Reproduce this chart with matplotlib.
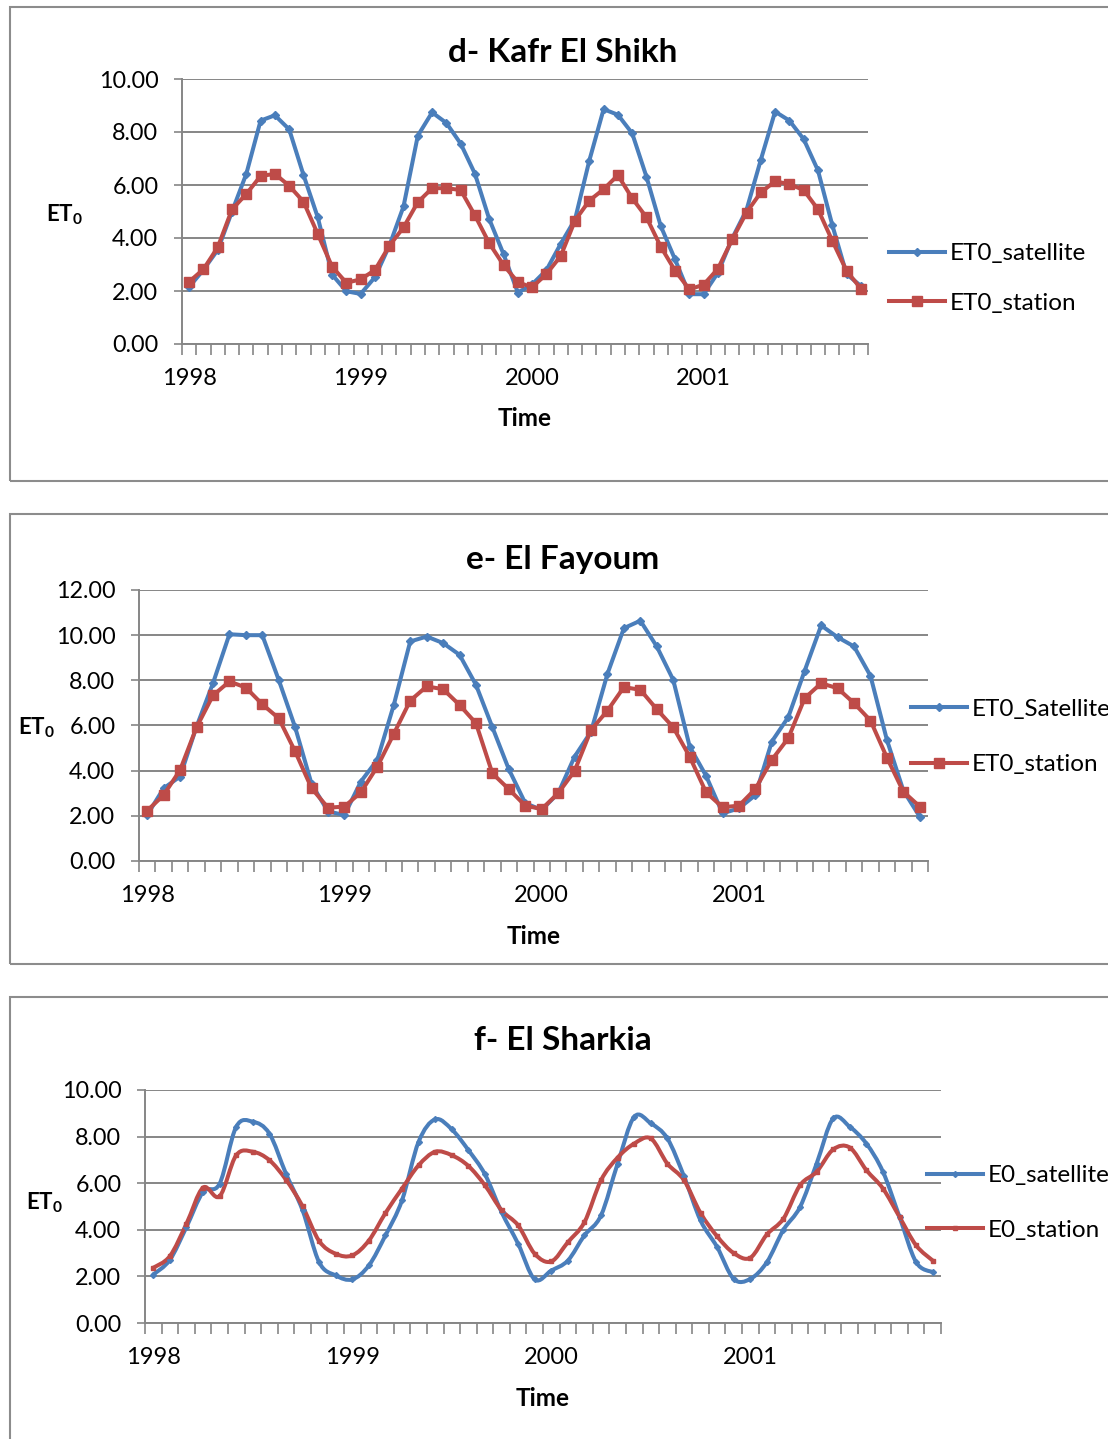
import numpy as np
import matplotlib
matplotlib.use("Agg")
import matplotlib.pyplot as plt
from matplotlib.patches import Rectangle, PathPatch
from matplotlib.path import Path
from matplotlib.lines import Line2D

plt.rcParams['font.family'] = ['Lato', 'DejaVu Sans']
plt.rcParams['mathtext.fontset'] = 'custom'
plt.rcParams['mathtext.rm'] = 'Lato'
plt.rcParams['mathtext.bf'] = 'Lato:bold'

W, H = 1108, 1439

year_labels = ['1998', '1999', '2000', '2001']

# d- Kafr El Shikh (monthly, 1998-2001)
kafr_sat = [2.15, 2.80, 3.55, 5.00, 6.42, 8.43, 8.63, 8.10, 6.38, 4.78, 2.62, 1.99,
            1.89, 2.52, 3.70, 5.19, 7.86, 8.74, 8.34, 7.56, 6.42, 4.71, 3.39, 1.94,
            2.25, 2.79, 3.78, 4.70, 6.92, 8.86, 8.65, 7.95, 6.31, 4.45, 3.19, 1.88,
            1.88, 2.69, 3.99, 5.06, 6.95, 8.77, 8.43, 7.73, 6.55, 4.49, 2.64, 2.19]
kafr_sta = [2.35, 2.82, 3.65, 5.08, 5.66, 6.34, 6.42, 5.97, 5.37, 4.15, 2.92, 2.31,
            2.44, 2.79, 3.70, 4.40, 5.35, 5.88, 5.88, 5.81, 4.85, 3.80, 2.98, 2.33,
            2.14, 2.64, 3.32, 4.66, 5.41, 5.84, 6.37, 5.50, 4.78, 3.67, 2.77, 2.06,
            2.24, 2.84, 3.95, 4.96, 5.72, 6.14, 6.03, 5.81, 5.08, 3.90, 2.76, 2.09]

# e- El Fayoum
fay_sat = [2.04, 3.22, 3.74, 5.95, 7.87, 10.04, 10.00, 10.00, 8.02, 5.92, 3.41, 2.19,
           2.04, 3.52, 4.48, 6.91, 9.72, 9.94, 9.65, 9.13, 7.80, 5.92, 4.06, 2.56,
           2.26, 3.00, 4.62, 5.73, 8.29, 10.31, 10.64, 9.50, 8.02, 5.07, 3.77, 2.11,
           2.33, 2.92, 5.29, 6.37, 8.43, 10.43, 9.91, 9.50, 8.20, 5.36, 3.12, 1.96]
fay_sta = [2.23, 2.92, 4.03, 5.92, 7.33, 7.95, 7.68, 6.94, 6.32, 4.85, 3.22, 2.36,
           2.41, 3.04, 4.18, 5.63, 7.10, 7.73, 7.61, 6.91, 6.10, 3.88, 3.18, 2.45,
           2.30, 3.00, 3.99, 5.80, 6.66, 7.70, 7.58, 6.72, 5.92, 4.62, 3.04, 2.38,
           2.45, 3.19, 4.48, 5.44, 7.21, 7.87, 7.65, 6.99, 6.22, 4.58, 3.07, 2.41]

# f- El Sharkia
shr_sat = [2.08, 2.71, 4.12, 5.62, 5.98, 8.42, 8.64, 8.13, 6.41, 4.84, 2.61, 2.04,
           1.87, 2.47, 3.76, 5.27, 7.78, 8.74, 8.31, 7.42, 6.38, 4.76, 3.40, 1.87,
           2.25, 2.68, 3.76, 4.62, 6.84, 8.85, 8.57, 7.92, 6.30, 4.40, 3.26, 1.89,
           1.89, 2.61, 4.00, 4.98, 6.84, 8.78, 8.42, 7.70, 6.49, 4.55, 2.61, 2.18]
shr_sta = [2.37, 2.87, 4.26, 5.81, 5.44, 7.20, 7.35, 6.99, 6.15, 5.01, 3.52, 2.97,
           2.90, 3.54, 4.72, 5.77, 6.77, 7.35, 7.20, 6.74, 5.91, 4.84, 4.19, 2.97,
           2.64, 3.47, 4.33, 6.13, 7.10, 7.70, 7.92, 6.84, 6.13, 4.72, 3.72, 3.00,
           2.80, 3.80, 4.48, 5.91, 6.49, 7.45, 7.53, 6.56, 5.77, 4.55, 3.33, 2.68]

BLUE = '#4A7EBB'
RED = '#BE4B48'
GRID = '#868686'


def fbox(l, t, r, b):
    return [l / W, 1 - b / H, (r - l) / W, (b - t) / H]


def smooth_path(x, y):
    pts = np.column_stack([x, y])
    ext = np.vstack([pts[0], pts, pts[-1]])
    verts = [pts[0]]
    codes = [Path.MOVETO]
    for i in range(len(pts) - 1):
        p0, p1, p2, p3 = ext[i], ext[i + 1], ext[i + 2], ext[i + 3]
        verts += [p1 + (p2 - p0) / 6, p2 - (p3 - p1) / 6, p2]
        codes += [Path.CURVE4] * 3
    return Path(verts, codes)


fig = plt.figure(figsize=(W / 100, H / 100), dpi=100)

panels = [
    dict(title='d- Kafr El Shikh', sat=kafr_sat, sta=kafr_sta, ymax=10,
         names=['ET0_satellite', 'ET0_station'], ax=(182, 79, 868, 344),
         frame=(10, 7, 1300, 481), title_y=52, time_y=418, ylab=(64, 215),
         leg=(889, 278.5), spacing=1.17, smooth=False),
    dict(title='e- El Fayoum', sat=fay_sat, sta=fay_sta, ymax=12,
         names=['ET0_Satellite', 'ET0_station'], ax=(139, 590, 928, 861),
         frame=(10, 514, 1300, 964), title_y=559, time_y=937, ylab=(36, 728),
         leg=(911, 737), spacing=1.43, smooth=False),
    dict(title='f- El Sharkia', sat=shr_sat, sta=shr_sta, ymax=10,
         names=['E0_satellite', 'E0_station'], ax=(145, 1090, 941, 1323),
         frame=(10, 997, 1300, 1500), title_y=1041, time_y=1398, ylab=(44, 1203),
         leg=(927, 1203), spacing=1.37, smooth=True),
]

for p in panels:
    fl, ft, fr, fb = p['frame']
    fig.patches.append(Rectangle((fl / W, 1 - fb / H), (fr - fl) / W, (fb - ft) / H,
                                 transform=fig.transFigure, fill=False,
                                 ec='#8c8c8c', lw=1.5))
    ax = fig.add_axes(fbox(*p['ax']))
    x = np.arange(len(p['sat']))
    if p['smooth']:
        for y, c, m, ms in [(p['sat'], BLUE, 'D', 3), (p['sta'], RED, 's', 3.5)]:
            ax.add_patch(PathPatch(smooth_path(x, np.array(y)), fill=False, ec=c,
                                   lw=2.9, joinstyle='round', capstyle='round', zorder=3))
            ax.plot(x, y, ls='none', marker=m, ms=ms, color=c, zorder=4)
        handles = [Line2D([], [], color=BLUE, lw=2.9, marker='D', ms=3),
                   Line2D([], [], color=RED, lw=2.9, marker='s', ms=3.5)]
    else:
        ax.plot(x, p['sat'], color=BLUE, lw=2.9, marker='D', ms=4.5, zorder=3)
        ax.plot(x, p['sta'], color=RED, lw=2.9, marker='s', ms=6.5, zorder=4)
        handles = [Line2D([], [], color=BLUE, lw=2.9, marker='D', ms=4.5),
                   Line2D([], [], color=RED, lw=2.9, marker='s', ms=6.5)]

    ax.set_xlim(-0.5, len(x) - 0.5)
    ax.set_ylim(0, p['ymax'])
    ax.set_yticks(np.arange(0, p['ymax'] + 0.1, 2))
    ax.set_yticklabels(['%.2f' % v for v in np.arange(0, p['ymax'] + 0.1, 2)])
    ax.set_xticks([0, 12, 24, 36])
    ax.set_xticklabels(year_labels)
    ax.set_xticks(np.arange(-0.5, len(x), 1), minor=True)
    ax.tick_params(axis='x', which='major', length=0, pad=17, labelsize=17)
    ax.tick_params(axis='x', which='minor', length=8, width=1.2, color=GRID, direction='out')
    ax.tick_params(axis='y', length=6, width=1.2, color=GRID, pad=11, labelsize=16.8)
    ax.grid(axis='y', color=GRID, lw=1.4)
    ax.set_axisbelow(True)
    for s in ['top', 'right']:
        ax.spines[s].set_visible(False)
    for s in ['left', 'bottom']:
        ax.spines[s].set_color(GRID)
        ax.spines[s].set_linewidth(1.4)
        ax.spines[s].set_zorder(5)

    cx = (p['ax'][0] + p['ax'][2]) / 2
    fig.text(563 / W, 1 - p['title_y'] / H, p['title'], ha='center', va='center',
             fontsize=24, fontweight='bold')
    fig.text(cx / W, 1 - p['time_y'] / H, 'Time', ha='center', va='center',
             fontsize=17.5, fontweight='bold')
    fig.text(p['ylab'][0] / W, 1 - p['ylab'][1] / H, r'$\mathbf{ET}_\mathbf{0}$',
             ha='center', va='center', fontsize=16)

    ax.legend(handles, p['names'], loc='center left',
              bbox_to_anchor=(p['leg'][0] / W, 1 - p['leg'][1] / H),
              bbox_transform=fig.transFigure, frameon=False, fontsize=17.5,
              handlelength=2.3, handletextpad=0.2, labelspacing=p['spacing'],
              borderaxespad=0, borderpad=0)

fig.savefig('out.png', dpi=100)
